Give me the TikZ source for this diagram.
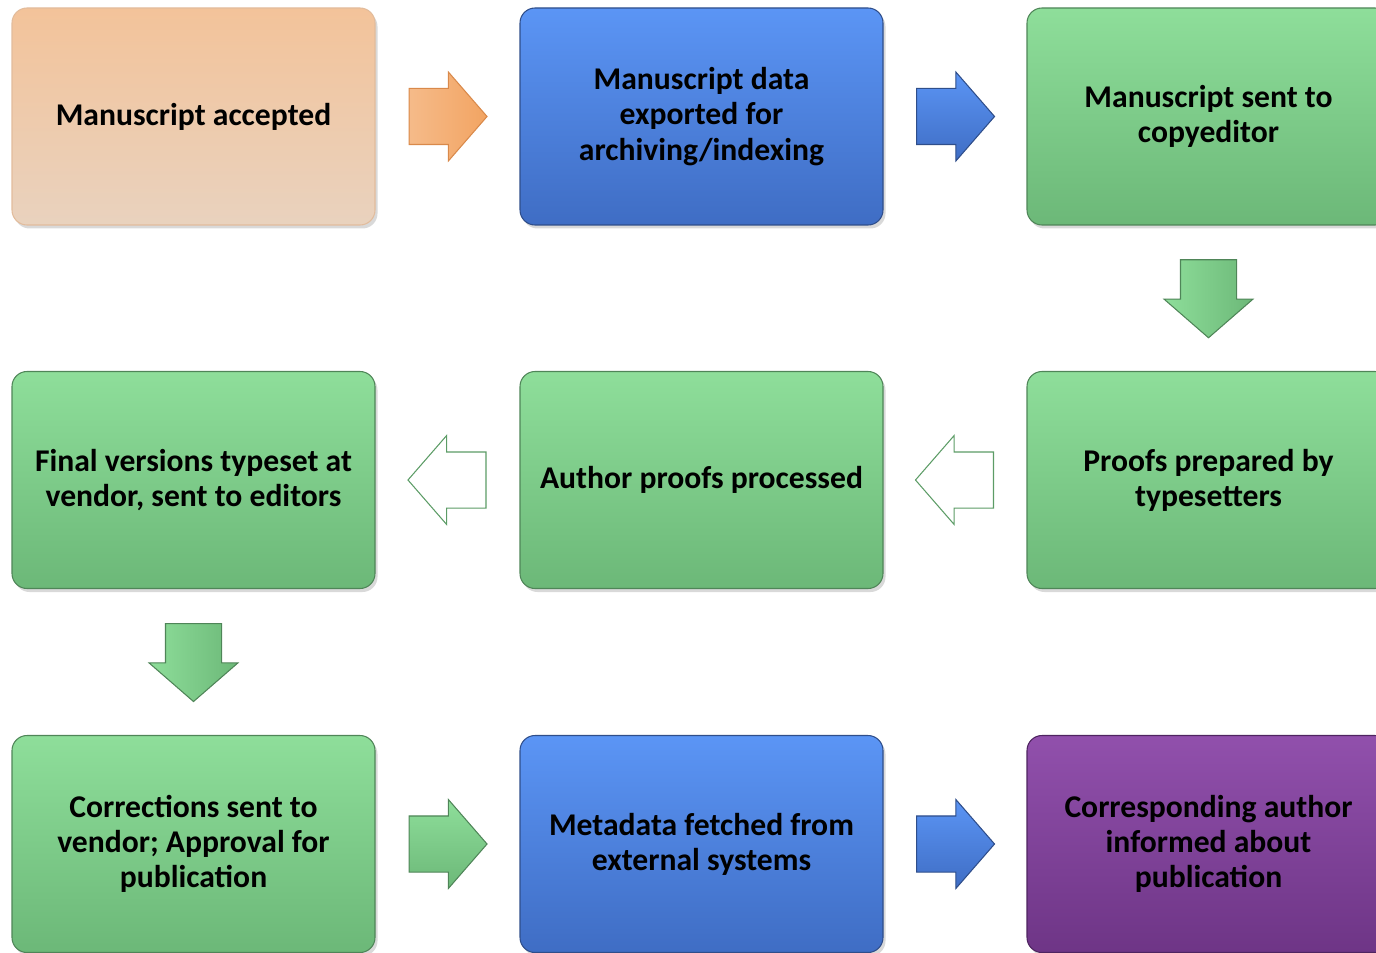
\documentclass[tikz,border=0pt]{standalone}
\usepackage{fontspec}
\setmainfont{Carlito}
\usetikzlibrary{shapes.arrows,shadows,calc}

\definecolor{orTop}{HTML}{F3C39A}
\definecolor{orBot}{HTML}{E9D2BE}
\definecolor{orLine}{HTML}{E2BC9C}
\definecolor{orArrow}{HTML}{F2A462}
\definecolor{orArrowLine}{HTML}{D9894A}
\definecolor{blTop}{HTML}{5B95F5}
\definecolor{blBot}{HTML}{3F6DC4}
\definecolor{blLine}{HTML}{2F4E8A}
\definecolor{grTop}{HTML}{8EDE9A}
\definecolor{grBot}{HTML}{6CB878}
\definecolor{grLine}{HTML}{4F8558}
\definecolor{puTop}{HTML}{9150AC}
\definecolor{puBot}{HTML}{6E3586}
\definecolor{puLine}{HTML}{4E2460}

\tikzset{
  box/.style={rectangle, rounded corners=0.3cm, minimum width=7.26cm,
    minimum height=4.34cm, align=center, line width=0.6pt,
    font=\fontsize{18pt}{20pt}\selectfont\bfseries,
    drop shadow={shadow xshift=0.05cm, shadow yshift=-0.07cm, opacity=0.3}},
  orbox/.style={box, draw=orLine, top color=orTop, bottom color=orBot},
  blbox/.style={box, draw=blLine, top color=blTop, bottom color=blBot},
  grbox/.style={box, draw=grLine, top color=grTop, bottom color=grBot},
  pubox/.style={box, draw=puLine, top color=puTop, bottom color=puBot},
  blockarrow/.style={single arrow, anchor=tail,
    minimum height=1.56cm, minimum width=1.76cm,
    single arrow head extend=0.33cm, single arrow tip angle=98,
    line width=0.6pt},
  hor/.style={inner xsep=0pt, inner ysep=0.55cm},
  ver/.style={inner xsep=0.55cm, inner ysep=0pt, shape border rotate=270},
  orarrow/.style={blockarrow, hor, draw=orArrowLine, left color=orArrow!75!white, right color=orArrow},
  blarrow/.style={blockarrow, hor, draw=blLine, top color=blTop, bottom color=blBot},
  grarrow/.style={blockarrow, hor, draw=grLine, top color=grTop, bottom color=grBot},
  downarrow/.style={blockarrow, ver, draw=grLine, left color=grTop, right color=grBot},
  openarrow/.style={blockarrow, hor, draw=grBot!85!black, fill=white, shape border rotate=180},
}

\begin{document}
\begin{tikzpicture}
    \clip (0,0) rectangle (27.52,-19.06);

    % Boxes
    \node[orbox] (accepted) at (3.87,-2.33) {Manuscript accepted};
    \node[blbox] (exported) at (14.03,-2.33) {Manuscript data\\exported for\\archiving/indexing};
    \node[grbox] (copyed) at (24.17,-2.33) {Manuscript sent to\\copyeditor};

    \node[grbox] (final) at (3.87,-9.6) {Final versions typeset at\\vendor, sent to editors};
    \node[grbox] (authproof) at (14.03,-9.6) {Author proofs processed};
    \node[grbox] (typeset) at (24.17,-9.6) {Proofs prepared by\\typesetters};

    \node[grbox] (approval) at (3.87,-16.88) {Corrections sent to\\vendor; Approval for\\publication};
    \node[blbox] (metadata) at (14.03,-16.88) {Metadata fetched from\\external systems};
    \node[pubox] (informed) at (24.17,-16.88) {Corresponding author\\informed about\\publication};

    % Arrows (placed by their tails)
    \node[orarrow] (a1) at ($(accepted.east)!0.5!(exported.west)+(-0.78,0)$) {};
    \node[blarrow] (a2) at ($(exported.east)!0.5!(copyed.west)+(-0.78,0)$) {};
    \node[downarrow] (a3) at ($(copyed.south)!0.5!(typeset.north)+(0,0.78)$) {};
    \node[openarrow] (a4) at ($(typeset.west)!0.5!(authproof.east)+(0.78,0)$) {};
    \node[openarrow] (a5) at ($(authproof.west)!0.5!(final.east)+(0.78,0)$) {};
    \node[downarrow] (a6) at ($(final.south)!0.5!(approval.north)+(0,0.78)$) {};
    \node[grarrow] (a7) at ($(approval.east)!0.5!(metadata.west)+(-0.78,0)$) {};
    \node[blarrow] (a8) at ($(metadata.east)!0.5!(informed.west)+(-0.78,0)$) {};
\end{tikzpicture}
\end{document}
